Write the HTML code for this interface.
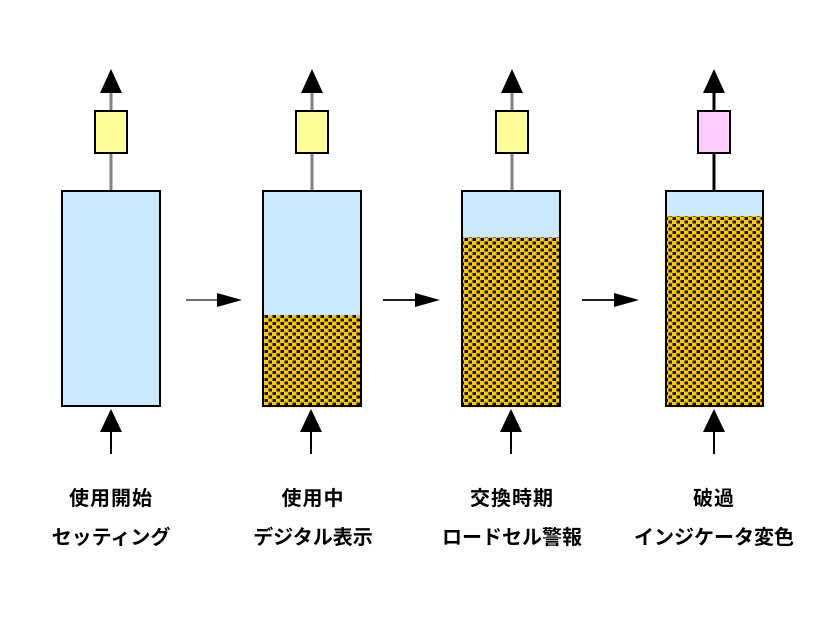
<!DOCTYPE html>
<html><head><meta charset="utf-8">
<style>
html,body{margin:0;padding:0;background:#fff;}
svg{display:block;}
text{font-family:"Liberation Sans","Noto Sans CJK JP",sans-serif;font-weight:bold;font-size:20px;fill:#000;}
</style></head>
<body>
<svg width="840" height="630" viewBox="0 0 840 630" xmlns="http://www.w3.org/2000/svg">
<defs>
<pattern id="p" width="8" height="7" patternUnits="userSpaceOnUse">
<rect width="8" height="7" fill="#fcc800"/>
<rect x="0.5" y="0" width="3.5" height="3" fill="#1a1200"/>
<rect x="4.5" y="3.5" width="3.5" height="3" fill="#1a1200"/>
</pattern>
</defs>

<!-- Column 1 -->
<line x1="111" y1="90" x2="111" y2="191" stroke="#808080" stroke-width="3"/>
<polygon points="111,69 100,93 122,93" fill="#000"/>
<rect x="95" y="111" width="32" height="42" fill="#ffff99" stroke="#000" stroke-width="2"/>
<rect x="62" y="191" width="98" height="215" fill="#cceaff" stroke="#000" stroke-width="2"/>
<line x1="111" y1="430" x2="111" y2="454" stroke="#000" stroke-width="2"/>
<polygon points="111,409 100,432 122,432" fill="#000"/>

<!-- Arrow 1 -->
<line x1="186" y1="300" x2="220" y2="300" stroke="#707070" stroke-width="2"/>
<polygon points="242,300 217,293 217,307" fill="#000"/>

<!-- Column 2 -->
<line x1="312" y1="90" x2="312" y2="191" stroke="#808080" stroke-width="3"/>
<polygon points="312,69 301,93 323,93" fill="#000"/>
<rect x="296" y="111" width="32" height="42" fill="#ffff99" stroke="#000" stroke-width="2"/>
<rect x="263" y="191" width="98" height="124" fill="#cceaff"/>
<rect x="263" y="315" width="98" height="91" fill="url(#p)"/>
<rect x="263" y="191" width="98" height="215" fill="none" stroke="#000" stroke-width="2"/>
<line x1="311" y1="430" x2="311" y2="454" stroke="#000" stroke-width="2"/>
<polygon points="311,409 300,432 322,432" fill="#000"/>

<!-- Arrow 2 -->
<line x1="383" y1="300" x2="418" y2="300" stroke="#202020" stroke-width="2"/>
<polygon points="440,300 415,293 415,307" fill="#000"/>

<!-- Column 3 -->
<line x1="512" y1="90" x2="512" y2="191" stroke="#808080" stroke-width="3"/>
<polygon points="512,69 501,93 523,93" fill="#000"/>
<rect x="496" y="111" width="32" height="42" fill="#ffff99" stroke="#000" stroke-width="2"/>
<rect x="462" y="191" width="98" height="46" fill="#cceaff"/>
<rect x="462" y="237" width="98" height="169" fill="url(#p)"/>
<rect x="462" y="191" width="98" height="215" fill="none" stroke="#000" stroke-width="2"/>
<line x1="511" y1="430" x2="511" y2="454" stroke="#000" stroke-width="2"/>
<polygon points="511,409 500,432 522,432" fill="#000"/>

<!-- Arrow 3 -->
<line x1="582" y1="300" x2="617" y2="300" stroke="#202020" stroke-width="2"/>
<polygon points="639,300 614,293 614,307" fill="#000"/>

<!-- Column 4 -->
<line x1="714" y1="90" x2="714" y2="191" stroke="#000" stroke-width="3"/>
<polygon points="714,69 703,93 725,93" fill="#000"/>
<rect x="698" y="111" width="32" height="42" fill="#ffccff" stroke="#000" stroke-width="2"/>
<rect x="666" y="191" width="97" height="25" fill="#cceaff"/>
<rect x="666" y="216" width="97" height="190" fill="url(#p)"/>
<rect x="666" y="191" width="97" height="215" fill="none" stroke="#000" stroke-width="2"/>
<line x1="714" y1="430" x2="714" y2="454" stroke="#000" stroke-width="2"/>
<polygon points="714,409 703,432 725,432" fill="#000"/>

<!-- Labels -->
<text x="111" y="505" text-anchor="middle" letter-spacing="1">使用開始</text>
<text x="111" y="544" text-anchor="middle">セッティング</text>
<text x="313" y="505" text-anchor="middle" letter-spacing="1">使用中</text>
<text x="313" y="544" text-anchor="middle">デジタル表示</text>
<text x="512" y="505" text-anchor="middle" letter-spacing="1">交換時期</text>
<text x="512" y="544" text-anchor="middle">ロードセル警報</text>
<text x="714" y="505" text-anchor="middle" letter-spacing="1">破過</text>
<text x="714" y="544" text-anchor="middle">インジケータ変色</text>
</svg>
</body></html>
